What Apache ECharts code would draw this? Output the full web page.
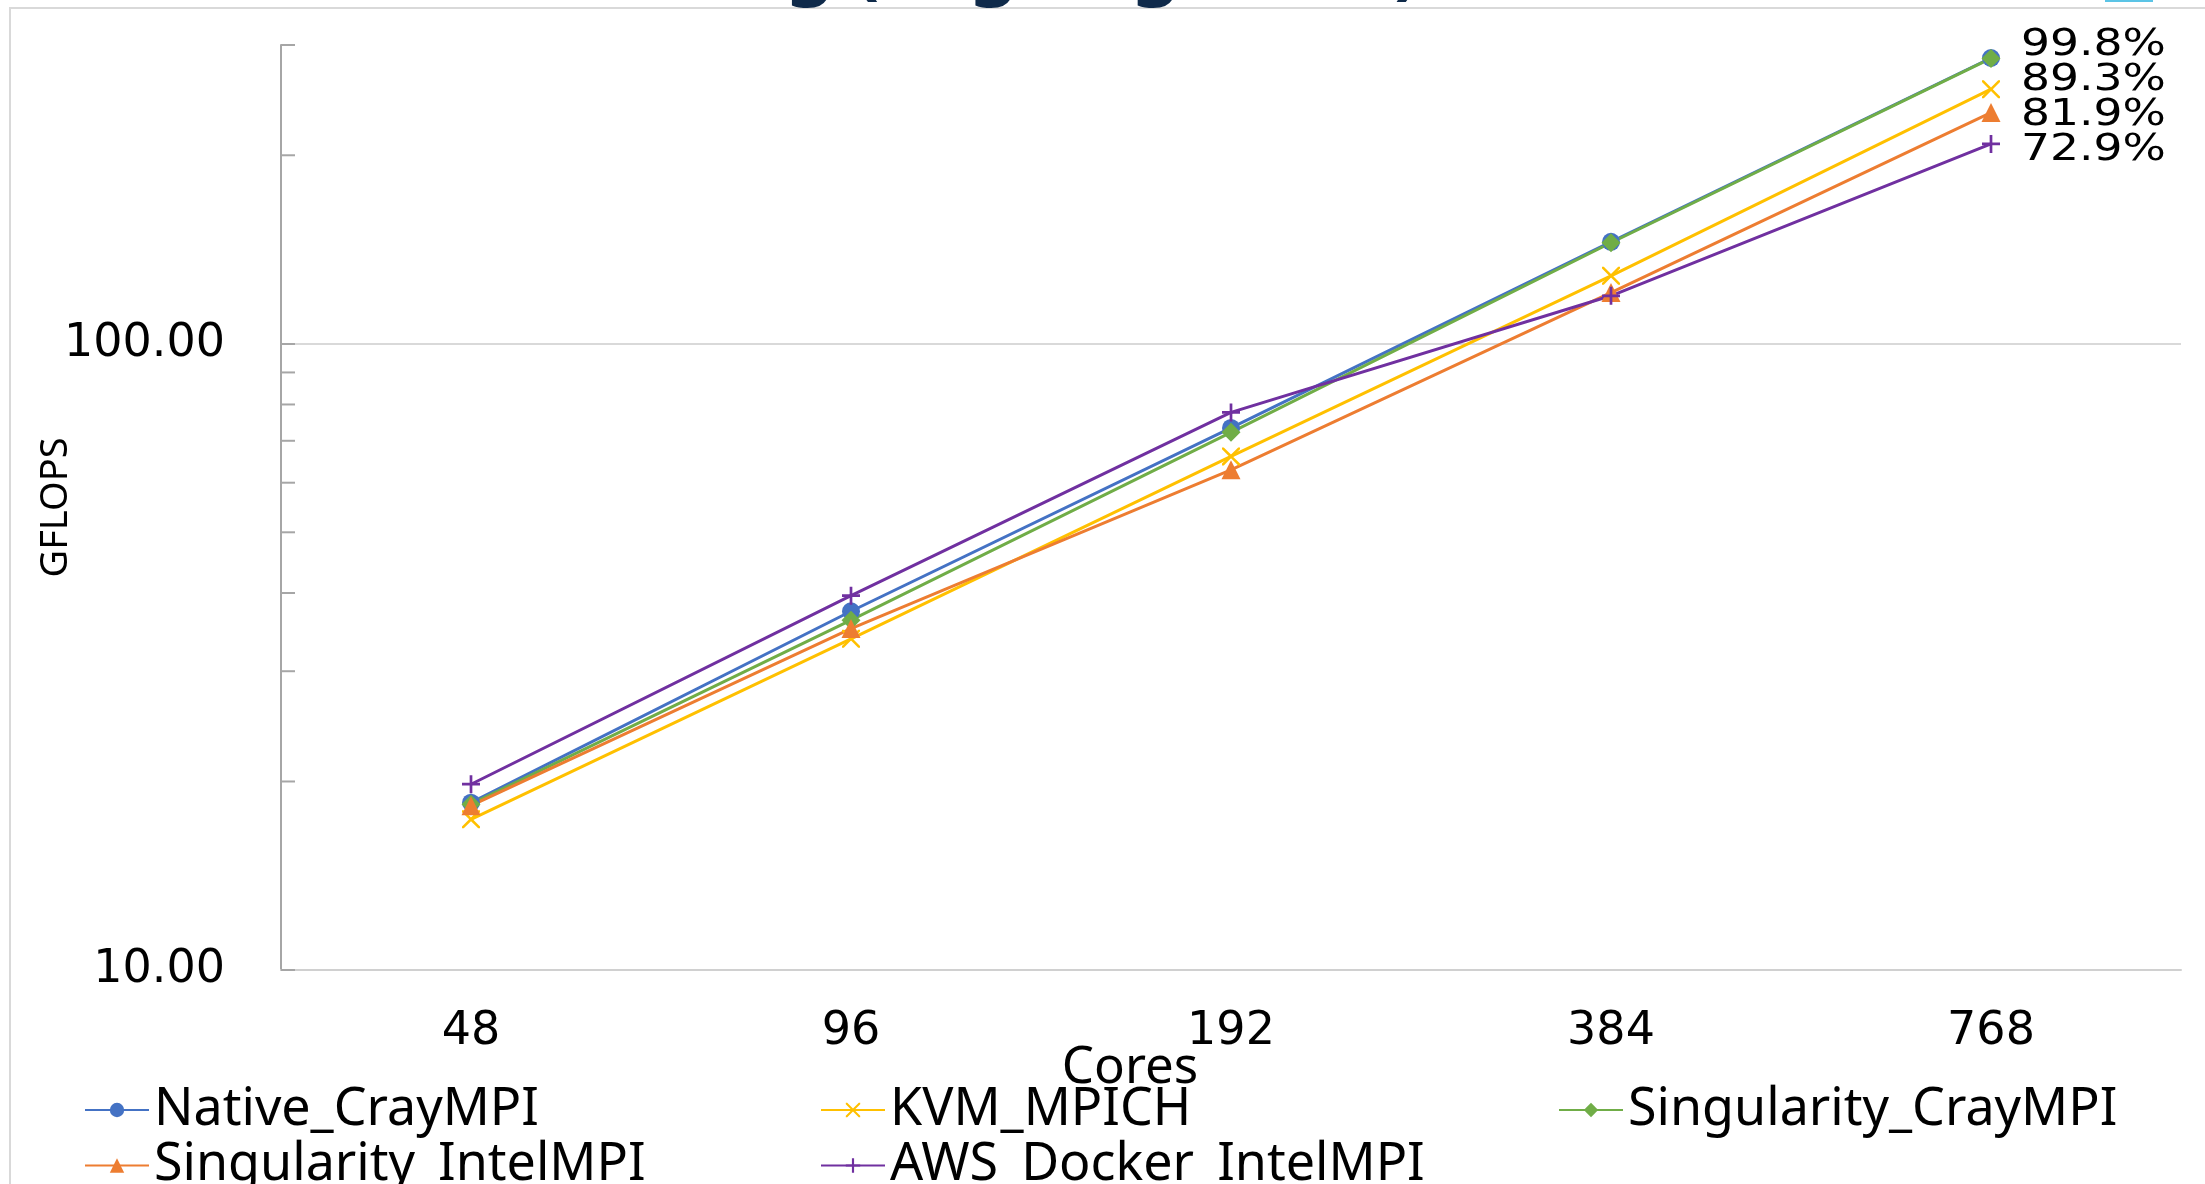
<!DOCTYPE html>
<html>
<head>
<meta charset="utf-8">
<title>GFLOPS - Cores</title>
<script src="https://cdn.jsdelivr.net/npm/echarts@6/dist/echarts.min.js"></script>
<style>
	html, body { margin: 0; padding: 0; background: #fff; }
	#chart { width: 2205px; height: 1184px; }
</style>
</head>
<body>
<div id="chart"></div>
<script>
	// 横轴：核数
	const cores = ["48", "96", "192", "384", "768"];
	// 各方案 GFLOPS
	const nativeCrayMPI = [18.5, 37.4, 73.4, 145.5, 286];
	const kvmMPICH = [17.4, 33.8, 66.1, 128.4, 255];
	const singularityCrayMPI = [18.4, 36.2, 72.2, 145.0, 285.5];
	const singularityIntelMPI = [18.3, 35.1, 62.9, 120.7, 234];
	const awsDockerIntelMPI = [19.8, 39.6, 77.7, 119.3, 208.5];
	// 768 核时的效率
	const efficiencyLabels = ["99.8%", "89.3%", "81.9%", "72.9%"];
	// 纵轴刻度
	const yTickLabels = [10, 100];
	const yMinorTicks = [20, 30, 40, 50, 60, 70, 80, 90, 200, 300];
	const yMin = 10;
	const yMax = 300;

	const GRID_LEFT = 281;
	const labelFont = "DejaVu Sans";
	const textFont = "Noto Sans";

	const chartDom = document.getElementById("chart");
	const myChart = echarts.init(chartDom);

	// X 形和 + 形标记（填充路径）
	const crossPath = "path://M0,0L2,0L10,8L18,0L20,0L20,2L12,10L20,18L20,20L18,20L10,12L2,20L0,20L0,18L8,10L0,2Z";
	const plusPath = "path://M8.5,0H11.5V8.5H20V11.5H11.5V20H8.5V11.5H0V8.5H8.5Z";

	const makeSeries = (name, data, color, symbol, size) => ({
		name: name,
		type: "line",
		data: data,
		symbol: symbol,
		symbolSize: size,
		showSymbol: true,
		color: color,
		lineStyle: { color: color, width: 3 },
		itemStyle: { color: color },
		silent: true
	});

	// 图例分三列，每列纵向排列
	const legendCommon = {
		orient: "vertical",
		top: 1084,
		width: 700,
		height: 160,
		padding: 0,
		itemWidth: 64,
		itemHeight: 18,
		itemGap: 3.5,
		selectedMode: false,
		textStyle: { fontFamily: textFont, fontSize: 52, lineHeight: 50, color: "#000" }
	};

	// 装饰：截断的标题、边框、效率文字
	const baseGraphics = () => [
		{
			type: "rect",
			silent: true,
			shape: { x: 10, y: 8, width: 2300, height: 1300 },
			style: { fill: "none", stroke: "#d9d9d9", lineWidth: 2 }
		},
		{
			type: "rect",
			silent: true,
			shape: { x: 2105, y: 0, width: 48, height: 2 },
			style: { fill: "#5bc4e6" }
		},
		{
			type: "text",
			silent: true,
			x: 1420,
			y: 6,
			style: {
				text: "HPL Scaling (Log-Log Scale)",
				fontFamily: textFont,
				fontSize: 76,
				fontWeight: "bold",
				fill: "#0f2a4a",
				align: "right",
				verticalAlign: "bottom"
			}
		},
		{
			type: "text",
			silent: true,
			x: 2021,
			y: 27,
			scaleX: 1.2,
			style: {
				text: efficiencyLabels.join("\n"),
				fontFamily: labelFont,
				fontSize: 38,
				lineHeight: 35.3,
				fill: "#000",
				align: "left",
				verticalAlign: "top"
			}
		}
	];

	const option = {
		animation: false,
		backgroundColor: "#fff",
		grid: {
			left: GRID_LEFT,
			right: 24,
			top: 45,
			bottom: 214,
			containLabel: false,
			outerBoundsMode: "none"
		},
		legend: [
			Object.assign({}, legendCommon, { left: 84, data: ["Native_CrayMPI", "Singularity_IntelMPI"] }),
			Object.assign({}, legendCommon, { left: 820, data: ["KVM_MPICH", "AWS_Docker_IntelMPI"] }),
			Object.assign({}, legendCommon, { left: 1558, data: ["Singularity_CrayMPI"] })
		],
		xAxis: {
			type: "category",
			data: cores,
			boundaryGap: true,
			name: "Cores",
			nameLocation: "middle",
			nameGap: 73,
			nameMoveOverlap: false,
			nameTextStyle: {
				fontFamily: textFont,
				fontSize: 51,
				color: "#000",
				padding: [0, 202, 0, 0]
			},
			axisLine: { show: true, lineStyle: { color: "#d0d0d0", width: 2 } },
			axisTick: { show: false },
			axisLabel: { margin: 39, fontFamily: labelFont, fontSize: 46, color: "#000" },
			splitLine: { show: false }
		},
		yAxis: {
			type: "log",
			logBase: 10,
			min: yMin,
			max: yMax,
			name: "GFLOPS",
			nameLocation: "middle",
			nameGap: 206,
			nameMoveOverlap: false,
			nameTextStyle: { fontFamily: textFont, fontSize: 38, color: "#000" },
			axisLine: { show: true, lineStyle: { color: "#a6a6a6", width: 2 } },
			axisTick: { show: true, inside: true, length: 14, lineStyle: { color: "#a6a6a6", width: 2 } },
			axisLabel: {
				margin: 56,
				fontFamily: labelFont,
				fontSize: 46,
				color: "#000",
				formatter: (v) => {
					const hit = yTickLabels.find((t) => Math.abs(t - v) < 1e-6);
					return hit !== undefined ? hit.toFixed(2) : "";
				}
			},
			splitLine: {
				show: true,
				showMinLine: false,
				showMaxLine: false,
				lineStyle: { color: "#d9d9d9", width: 2 }
			}
		},
		series: [
			makeSeries("Native_CrayMPI", nativeCrayMPI, "#4472C4", "circle", 18),
			makeSeries("KVM_MPICH", kvmMPICH, "#FFC000", crossPath, 18),
			makeSeries("Singularity_CrayMPI", singularityCrayMPI, "#70AD47", "diamond", 19),
			makeSeries("Singularity_IntelMPI", singularityIntelMPI, "#ED7D31", "triangle", 19),
			makeSeries("AWS_Docker_IntelMPI", awsDockerIntelMPI, "#7030A0", plusPath, 18)
		],
		graphic: baseGraphics()
	};

	myChart.setOption(option);

	// 对数轴的次刻度：用轴自身的换算得到位置
	const drawMinorTicks = () => {
		const ticks = yMinorTicks.map((v) => {
			const y = myChart.convertToPixel({ yAxisIndex: 0 }, v);
			return {
				type: "line",
				silent: true,
				shape: { x1: GRID_LEFT, y1: y, x2: GRID_LEFT + 14, y2: y },
				style: { stroke: "#a6a6a6", lineWidth: 2 }
			};
		});
		myChart.setOption({ graphic: baseGraphics().concat(ticks) });
	};
	drawMinorTicks();

	window.addEventListener("resize", () => {
		myChart.resize();
		drawMinorTicks();
	});
</script>
</body>
</html>
